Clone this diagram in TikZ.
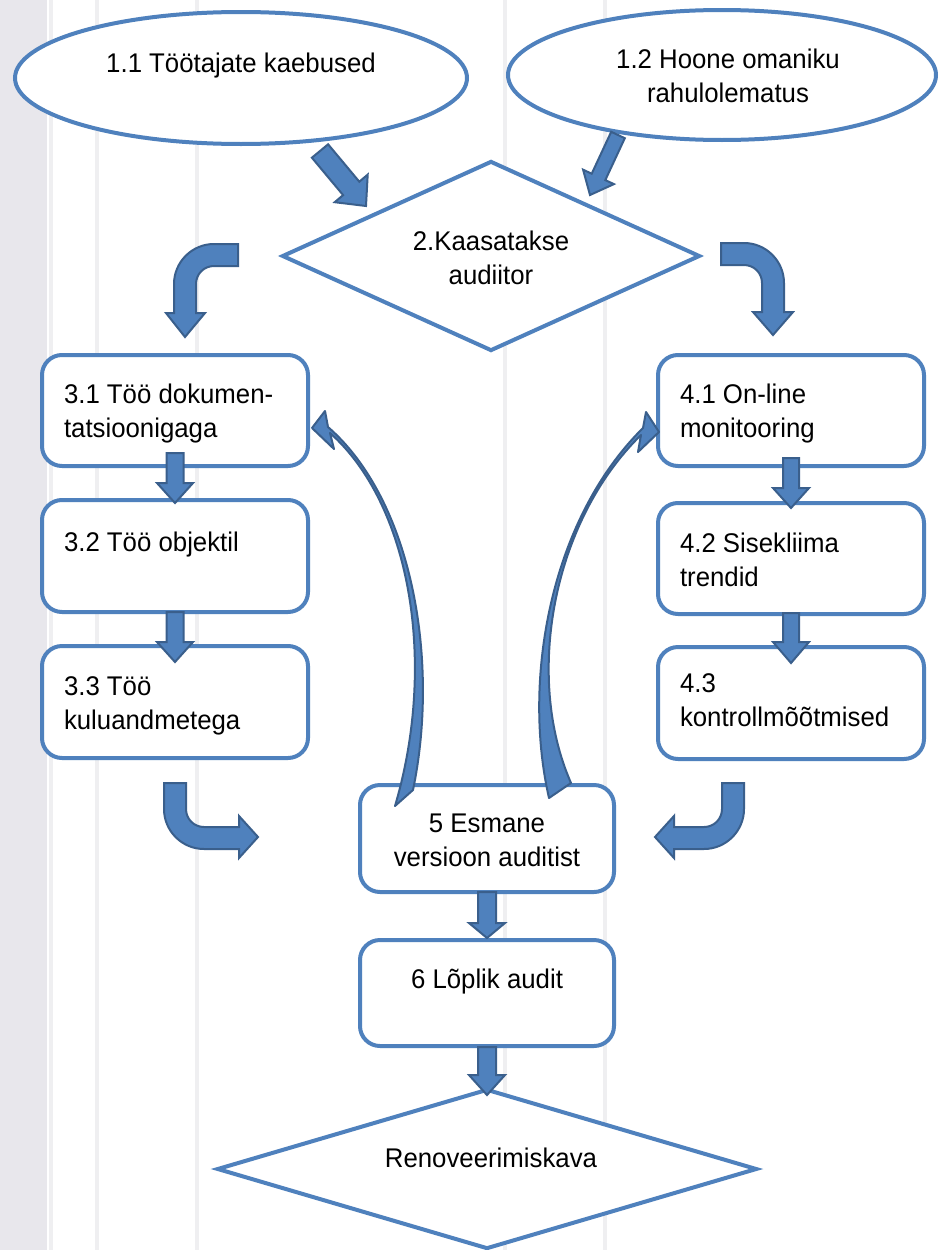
\documentclass[tikz,border=0pt]{standalone}
\usepackage{fontspec}
\setmainfont{Liberation Sans}[FakeStretch=0.955]
\usetikzlibrary{shapes.geometric,calc}
\definecolor{shapeblue}{HTML}{4F81BD}
\definecolor{arrowfill}{HTML}{4F81BD}
\definecolor{arrowdark}{HTML}{3A5F8C}
\definecolor{bgstrip}{HTML}{E8E7EC}
\definecolor{bgline}{HTML}{EFEFF1}
\newcommand\ctext[2]{\smash{\raisebox{#1}{\begin{tabular}[t]{@{}c@{}}#2\end{tabular}}}}
\newcommand\ltext[2]{\smash{\raisebox{#1}{\makebox[222pt][l]{\begin{tabular}[t]{@{}l@{}}#2\end{tabular}}}}}
\newcommand\vblock[6]{%
  \draw[blk] ($(#1.south)+(-#6,-#3)$) -- ($(#1.south)+(#6,-#3)$)
    -- ($(#2.north)+(#6,{#4-#5})$) -- ($(#2.north)+(18,{#4-#5})$)
    -- ($(#2.north)+(0,#4)$)
    -- ($(#2.north)+(-18,{#4-#5})$) -- ($(#2.north)+(-#6,{#4-#5})$) -- cycle;}
\tikzset{
  shp/.style={draw=shapeblue, line width=4pt, fill=white, inner sep=0pt,
    font=\fontsize{27pt}{34pt}\selectfont},
  ell/.style={shp, ellipse},
  dia/.style={shp, diamond, aspect=2},
  rbox/.style={shp, rectangle, rounded corners=20pt},
  blk/.style={fill=arrowfill, draw=arrowdark, line width=2pt, line join=miter},
  cblk/.style={fill=arrowfill, draw=arrowdark, line width=2pt, line join=round},
  bgl/.style={draw=bgline, line width=4pt}
}
\begin{document}
\begin{tikzpicture}[x=1pt,y=-1pt]
\useasboundingbox (0,0) rectangle (938,1250);
% background
\fill[white] (0,0) rectangle (938,1250);
\fill[bgstrip] (0,0) rectangle (47,1250);
\foreach \xx in {51,97,197,505,605} {\draw[bgl] (\xx,0) -- (\xx,1250);}

% shapes
\node[ell, minimum width=452pt, minimum height=132pt] (e1) at (241,78)
  {\ctext{6pt}{1.1 Töötajate kaebused}};
\node[ell, minimum width=428pt, minimum height=130pt] (e2) at (722,75)
  {\hspace*{12pt}\ctext{7pt}{1.2 Hoone omaniku\\rahulolematus}};
\node[dia, minimum width=418pt, minimum height=190pt] (d2) at (491,256)
  {\ctext{6pt}{2.Kaasatakse\\audiitor}};

\node[rbox, minimum width=266pt, minimum height=111pt] (b31) at (175,410.5)
  {\ltext{7.5pt}{3.1 Töö dokumen-\\tatsioonigaga}};
\node[rbox, minimum width=266pt, minimum height=112pt] (b32) at (175,556)
  {\ltext{5pt}{3.2 Töö objektil}};
\node[rbox, minimum width=266pt, minimum height=112pt] (b33) at (175,702)
  {\ltext{7pt}{3.3 Töö\\kuluandmetega}};

\node[rbox, minimum width=266pt, minimum height=111pt] (b41) at (791,410.5)
  {\ltext{7.5pt}{4.1 On-line\\monitooring}};
\node[rbox, minimum width=266pt, minimum height=111pt] (b42) at (791,558.5)
  {\ltext{6.5pt}{4.2 Sisekliima\\trendid}};
\node[rbox, minimum width=266pt, minimum height=112pt] (b43) at (791,703)
  {\ltext{11pt}{4.3\\kontrollmõõtmised}};

\node[rbox, minimum width=254pt, minimum height=107pt] (b5) at (487,838.5)
  {\ctext{6.5pt}{5 Esmane\\versioon auditist}};
\node[rbox, minimum width=254pt, minimum height=106pt] (b6) at (487,993)
  {\ctext{5pt}{6 Lõplik audit}};
\node[dia, minimum width=540pt, minimum height=160pt] (dR) at (487,1169)
  {\hspace*{8pt}\ctext{2pt}{Renoveerimiskava}};

% straight block arrows
\vblock{b31}{b32}{15}{5}{20}{8.5}
\vblock{b32}{b33}{2}{18}{20}{8.5}
\vblock{b41}{b42}{10}{7}{20}{8}
\vblock{b42}{b43}{3}{18}{21}{8}
\vblock{b5}{b6}{2}{0}{15}{9}
\vblock{b6}{dR}{1}{8}{20}{9}

% diagonal arrows from ellipses to diamond
\draw[blk] (311.9,157.7) -- (328.1,144.3) -- (359.3,181.7) -- (367.7,174.6)
  -- (366,206) -- (334.7,202.2) -- (343.1,195.1) -- cycle;
\draw[blk] (611.2,131.8) -- (624.8,138.2) -- (605.3,180.1) -- (613.9,184.1)
  -- (590,195) -- (583.1,169.7) -- (591.7,173.7) -- cycle;

% bent arrows from diamond
\draw[blk] (238,244) -- (214,244) .. controls (192,244) and (174,262) .. (174,284)
  -- (174,313) -- (166,313) -- (185,337) -- (205,313) -- (196,313) -- (196,284)
  .. controls (196,274) and (204,266) .. (214,266) -- (238,266) -- cycle;
\draw[blk] (721,243) -- (744,243) .. controls (766,243) and (784,261) .. (784,283)
  -- (784,312) -- (793,312) -- (773,335) -- (753,312) -- (762,312) -- (762,283)
  .. controls (762,273) and (754,265) .. (744,265) -- (721,265) -- cycle;

% bent arrows into box 5
\draw[blk] (164,783) -- (164,809) .. controls (164,831) and (182,849) .. (204,849)
  -- (239,849) -- (239,858) -- (258,837) -- (239,816) -- (239,827) -- (204,827)
  .. controls (194,827) and (186,819) .. (186,809) -- (186,783) -- cycle;
\draw[blk] (744,783) -- (744,809) .. controls (744,831) and (726,849) .. (704,849)
  -- (674,849) -- (674,858) -- (655,837) -- (674,816) -- (674,827) -- (704,827)
  .. controls (714,827) and (722,819) .. (722,809) -- (722,783) -- cycle;

% curved feedback arrows from box 5
\draw[cblk] (312,428) -- (325,411) -- (328,427)
  .. controls (412,500) and (440,660) .. (413,790) -- (395,806)
  .. controls (438,660) and (409,503) .. (330,433) -- (334,449) -- cycle;
\draw[cblk] (659,432) -- (646,412) -- (643,428)
  .. controls (550,520) and (522,680) .. (549,798) -- (571,783)
  .. controls (524,676) and (553,521) .. (641,435) -- (638,452) -- cycle;
\end{tikzpicture}
\end{document}
